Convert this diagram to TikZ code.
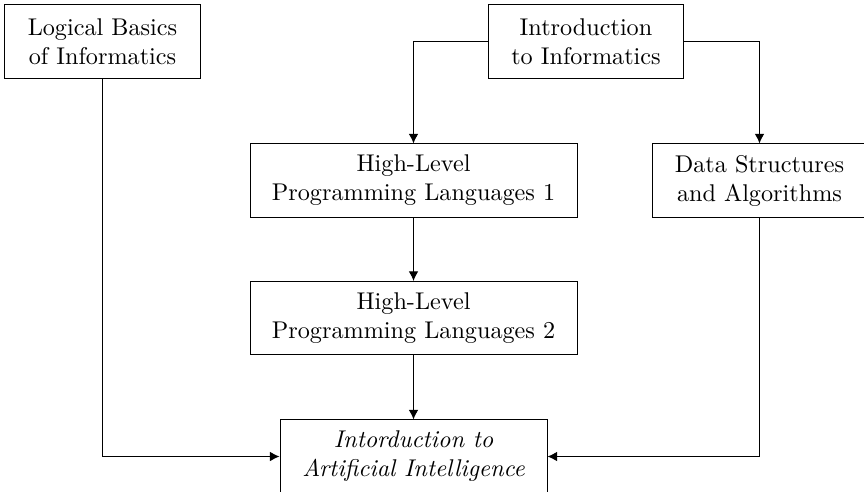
\documentclass[tikz,border=0pt]{standalone}
\usetikzlibrary{arrows.meta}
\begin{document}
\begin{tikzpicture}[x=0.4132pt, y=-0.4132pt,
  course/.style={draw, align=center, inner sep=0pt, minimum height=30.2pt},
  link/.style={-{Latex[length=4pt,width=4pt]}, line width=0.45pt}]
  \useasboundingbox (0,0) rectangle (864,491);
  \clip (0,0) rectangle (864,491);
  \node[course, minimum width=80.6pt] (lbi) at (102.5,41.5) {Logical Basics\\of Informatics};
  \node[course, minimum width=80.2pt] (ii) at (586,41.5) {Introduction\\to Informatics};
  \node[course, minimum width=135.1pt] (hl1) at (413.5,180.5) {High-Level\\Programming Languages 1};
  \node[course, minimum width=88.8pt] (dsa) at (759.5,180.5) {Data Structures\\and Algorithms};
  \node[course, minimum width=135.1pt] (hl2) at (413.5,318) {High-Level\\Programming Languages 2};
  \node[course, minimum width=110.3pt] (ai) at (413.5,456.5) {\itshape Intorduction to\\\itshape Artificial Intelligence};
  \draw[link] (ii.west) -| (hl1.north);
  \draw[link] (ii.east) -| (dsa.north);
  \draw[link] (hl1) -- (hl2);
  \draw[link] (hl2) -- (ai);
  \draw[link] (lbi.south) |- (ai.west);
  \draw[link] (dsa.south) |- (ai.east);
\end{tikzpicture}
\end{document}
